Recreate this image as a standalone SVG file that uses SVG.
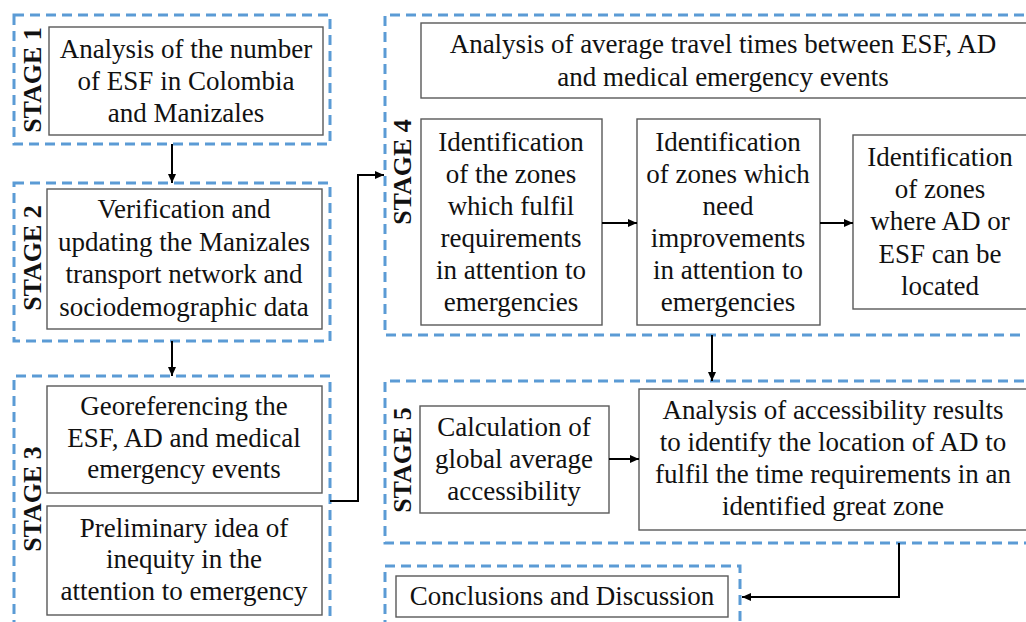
<svg xmlns="http://www.w3.org/2000/svg" width="1026" height="622" viewBox="0 0 1026 622">
<style>
.stage{fill:none;stroke:#5B9BD5;stroke-width:3;stroke-dasharray:10 6}
.box{fill:#fff;stroke:#595959;stroke-width:1.4}
.t{font-family:"Liberation Serif","Times New Roman",serif;font-size:27px;fill:#111;text-anchor:middle}
.lbl{font-family:"Liberation Serif","Times New Roman",serif;font-size:26px;font-weight:bold;fill:#111;text-anchor:middle}
.c{fill:none;stroke:#000;stroke-width:2;marker-end:url(#ah)}
</style>
<defs>
<marker id="ah" markerUnits="userSpaceOnUse" markerWidth="10" markerHeight="8" refX="9" refY="4" orient="auto">
<path d="M0,0 L9,4 L0,8 Z" fill="#000"/>
</marker>
</defs>
<rect width="1026" height="622" fill="#fff"/>

<g id="stage1">
<rect class="stage" x="14" y="15" width="316" height="129"/>
<text class="lbl" transform="translate(41,80) rotate(-90)">STAGE 1</text>
<rect class="box" x="49" y="27" width="274" height="108"/>
<text class="t" x="186" y="58">Analysis of the number</text>
<text class="t" x="186" y="90">of ESF in Colombia</text>
<text class="t" x="186" y="122">and Manizales</text>
</g>

<g id="stage2">
<rect class="stage" x="14" y="183" width="316" height="158"/>
<text class="lbl" transform="translate(41,258) rotate(-90)">STAGE 2</text>
<rect class="box" x="47" y="189" width="275" height="140"/>
<text class="t" x="184" y="218">Verification and</text>
<text class="t" x="184" y="251">updating the Manizales</text>
<text class="t" x="184" y="283">transport network and</text>
<text class="t" x="184" y="316">sociodemographic data</text>
</g>

<g id="stage3">
<path class="stage" d="M14,630 V376 H330 V630"/>
<text class="lbl" transform="translate(41,499) rotate(-90)">STAGE 3</text>
<rect class="box" x="47" y="386" width="275" height="107"/>
<text class="t" x="184" y="415">Georeferencing the</text>
<text class="t" x="184" y="447">ESF, AD and medical</text>
<text class="t" x="184" y="478">emergency events</text>
<rect class="box" x="47" y="506" width="275" height="109"/>
<text class="t" x="184" y="537">Preliminary idea of</text>
<text class="t" x="184" y="568">inequity in the</text>
<text class="t" x="184" y="600">attention to emergency</text>
</g>

<g id="stage4">
<path class="stage" d="M1040,15 H385 V335 H1040"/>
<text class="lbl" transform="translate(411,172) rotate(-90)">STAGE 4</text>
<rect class="box" x="421" y="23" width="610" height="75"/>
<text class="t" x="723" y="53">Analysis of average travel times between ESF, AD</text>
<text class="t" x="723" y="86">and medical emergency events</text>
<rect class="box" x="421" y="119" width="181" height="206"/>
<text class="t" x="511" y="151">Identification</text>
<text class="t" x="511" y="183">of the zones</text>
<text class="t" x="511" y="215">which fulfil</text>
<text class="t" x="511" y="247">requirements</text>
<text class="t" x="511" y="279">in attention to</text>
<text class="t" x="511" y="311">emergencies</text>
<rect class="box" x="637" y="119" width="183" height="206"/>
<text class="t" x="728" y="151">Identification</text>
<text class="t" x="728" y="183">of zones which</text>
<text class="t" x="728" y="215">need</text>
<text class="t" x="728" y="247">improvements</text>
<text class="t" x="728" y="279">in attention to</text>
<text class="t" x="728" y="311">emergencies</text>
<rect class="box" x="853" y="135" width="180" height="174"/>
<text class="t" x="940" y="166">Identification</text>
<text class="t" x="940" y="198">of zones</text>
<text class="t" x="940" y="230">where AD or</text>
<text class="t" x="940" y="263">ESF can be</text>
<text class="t" x="940" y="295">located</text>
</g>

<g id="stage5">
<path class="stage" d="M1040,381 H385 V543 H1040"/>
<text class="lbl" transform="translate(411,460) rotate(-90)">STAGE 5</text>
<rect class="box" x="420" y="406" width="189" height="107"/>
<text class="t" x="514" y="436">Calculation of</text>
<text class="t" x="514" y="468">global average</text>
<text class="t" x="514" y="500">accessibility</text>
<rect class="box" x="639" y="389" width="392" height="141"/>
<text class="t" x="833" y="419">Analysis of accessibility results</text>
<text class="t" x="833" y="451">to identify the location of AD to</text>
<text class="t" x="833" y="483">fulfil the time requirements in an</text>
<text class="t" x="833" y="515">identified great zone</text>
</g>

<g id="conclusions">
<path class="stage" d="M385,630 V566 H740 V630"/>
<rect class="box" x="396" y="576" width="332" height="41"/>
<text class="t" x="562" y="605">Conclusions and Discussion</text>
</g>

<g id="connectors">
<path class="c" d="M172,144 V183"/>
<path class="c" d="M172,341 V376"/>
<path class="c" d="M330,501 H358 V175 H384"/>
<path class="c" d="M602,223 H637"/>
<path class="c" d="M820,223 H853"/>
<path class="c" d="M712,335 V381"/>
<path class="c" d="M609,459 H639"/>
<path class="c" d="M899,543 V597 H742"/>
</g>
</svg>
